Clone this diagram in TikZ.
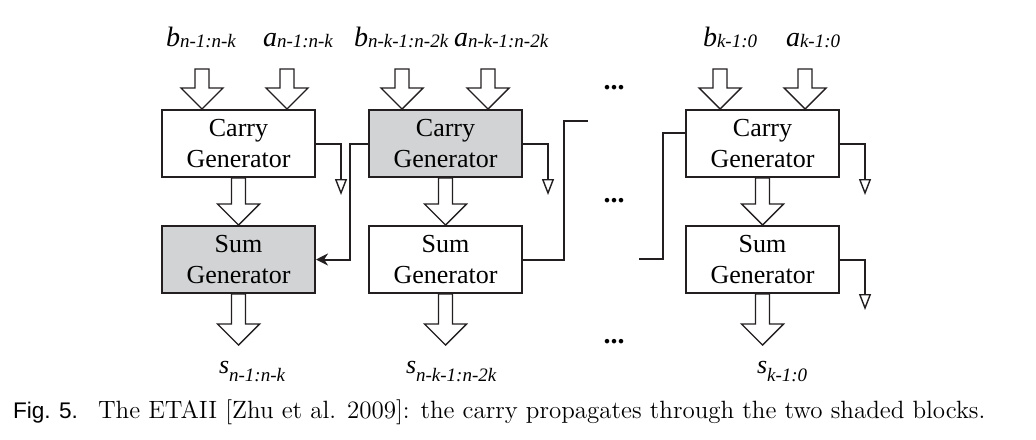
\documentclass[tikz,border=0pt]{standalone}
\usepackage{fontspec}
\setmainfont{Liberation Serif}
\newfontfamily\capfont{Latin Modern Roman}
\newfontfamily\figfont{Liberation Sans}
\usetikzlibrary{arrows.meta, positioning, calc}
\definecolor{cshade}{HTML}{D1D3D4}
\definecolor{cline}{HTML}{231F20}
\tikzset{
  every picture/.style={line width=1pt},
  block/.style={draw=cline, fill=#1, align=center, minimum width=76.5pt, minimum height=33.5pt, inner sep=0pt, font=\fontsize{13}{15.5}\selectfont},
  block/.default=white,
  hollow/.style={draw=cline, fill=white, line width=0.7pt, line join=miter},
  wire/.style={draw=cline, line width=1pt},
  tap/.style={wire, -{Triangle[open, length=8pt, width=6pt, line width=0.7pt]}},
  feed/.style={wire, -{Stealth[length=6pt, width=6pt]}},
  sig/.style={font=\fontsize{14}{16}\selectfont, anchor=base west, inner sep=0pt},
  ellip/.style={font=\fontsize{14}{15}\selectfont\bfseries, inner sep=0pt},
  caption/.style={anchor=base west, inner sep=0pt},
}
\newcommand{\sig}[3][1pt]{\textit{#2}\raisebox{-#1}{\fontsize{9.5}{10}\selectfont\itshape #3}}
\newcommand{\fatarrow}[2]{\draw[hollow] let \p1=#1, \p2=#2 in
  (\x2-3.5pt,\y1) -- (\x2-3.5pt,\y2+10.5pt) -- (\x2-10.5pt,\y2+10.5pt) -- (\x2,\y2)
  -- (\x2+10.5pt,\y2+10.5pt) -- (\x2+3.5pt,\y2+10.5pt) -- (\x2+3.5pt,\y1) -- cycle;}

\begin{document}
\begin{tikzpicture}[x=0.5pt, y=-0.5pt]
  \useasboundingbox (0,0) rectangle (1036,439);
  % carry and sum blocks
  \node[block] (cg1) at (238.5,143.5) {Carry\\Generator};
  \node[block=cshade, below=23.5pt of cg1] (sg1) {Sum\\Generator};
  \node[block=cshade] (cg2) at (445.5,143.5) {Carry\\Generator};
  \node[block, below=23.5pt of cg2] (sg2) {Sum\\Generator};
  \node[block] (cg3) at (762.5,143.5) {Carry\\Generator};
  \node[block, below=23.5pt of cg3] (sg3) {Sum\\Generator};
  % operand and sum labels
  \node[sig] (b1) at (165,46) {\sig{b}{n-1:n-k}};
  \node[sig] (a1) at (262,46) {\sig{a}{n-1:n-k}};
  \node[sig] (b2) at (353,46) {\sig{b}{n-k-1:n-2k}};
  \node[sig] (a2) at (453,46) {\sig{a}{n-k-1:n-2k}};
  \node[sig] (b3) at (702,46) {\sig{b}{k-1:0}};
  \node[sig] (a3) at (785,46) {\sig{a}{k-1:0}};
  \foreach \i/\x/\txt in {1/218/n-1:n-k, 2/405/n-k-1:n-2k, 3/756/k-1:0}
    \node[sig, font=\fontsize{13}{15}\selectfont] (s\i) at (\x,373) {\sig[4pt]{s}{\txt}};
  % wide arrows
  \foreach \i/\db/\da in {1/-36.5/48.5, 2/-43.5/42.5, 3/-42.5/42.5} {
    \fatarrow{($(cg\i.north)+(\db,-40)$)}{($(cg\i.north)+(\db,0)$)}
    \fatarrow{($(cg\i.north)+(\da,-40)$)}{($(cg\i.north)+(\da,0)$)}
    \fatarrow{(cg\i.south)}{(sg\i.north)}
    \fatarrow{(sg\i.south)}{($(sg\i.south)+(0,51)$)}
  }
  % carry wires
  \foreach \n/\dy in {cg1/51.5, cg2/51.5, cg3/51.5, sg3/50.5}
    \draw[tap] (\n.east) -| ++(25,\dy);
  \draw[feed] (cg2.west) -- ++(-18,0) |- (sg1.east);
  \coordinate (r2) at (588,121);
  \coordinate (l3) at (639,258.5);
  \draw[wire] (sg2.east) -- ++(41,0) |- (r2);
  \draw[wire] (l3) -- ++(24,0) |- ([yshift=5.25pt]cg3.west);
  \foreach \y [count=\k] in {88, 201, 342}
    \node[ellip] (dots\k) at (614,\y) {...};
  % caption
  \node[caption, font=\figfont\fontsize{11.3}{14}\selectfont] (fig) at (12,418) {Fig. 5.};
  \node[caption, font=\capfont\fontsize{12.5}{14}\selectfont] (cap) at (97,418) {The ETAII [Zhu et al. 2009]: the carry propagates through the two shaded blocks.};
\end{tikzpicture}
\end{document}
